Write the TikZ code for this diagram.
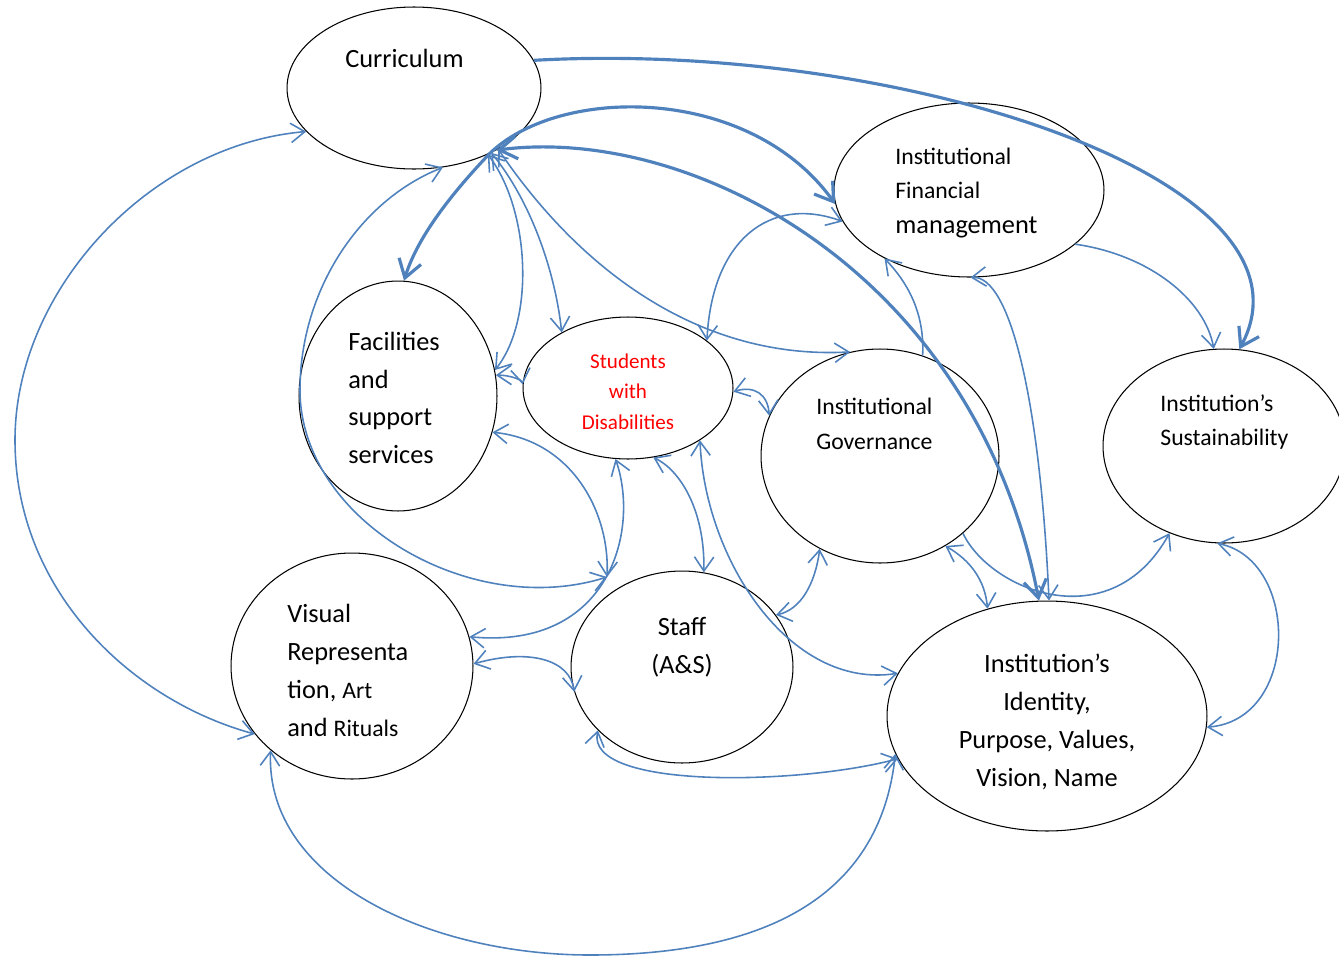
\documentclass[tikz,border=0pt]{standalone}
\usepackage{fontspec}
\setmainfont{Carlito}
\usetikzlibrary{arrows.meta,shapes.geometric}
\definecolor{link}{RGB}{79,129,189}
\definecolor{sred}{RGB}{255,0,0}
\begin{document}
\begin{tikzpicture}[x=0.02cm,y=-0.02cm,
  bb/.tip={Straight Barb[length=8pt,width=11pt]},
  BB/.tip={Straight Barb[length=10pt,width=13pt]},
  ell/.style={draw=black, ellipse, inner sep=0pt, line width=0.6pt},
  txt/.style={inner sep=0pt},
  lnk/.style={draw=link, line width=0.9pt},
  both/.style={lnk, bb-bb},
  one/.style={lnk, -bb},
  thk/.style={draw=link, line width=1.8pt}]
\useasboundingbox (0,0) rectangle (1339,957);

% ellipses
\node[ell, minimum width=5.08cm, minimum height=3.24cm] (cur) at (414,88) {};
\node[ell, minimum width=5.40cm, minimum height=3.48cm] (fin) at (969,190) {};
\node[ell, minimum width=3.96cm, minimum height=4.60cm] (fac) at (398,396) {};
\node[ell, minimum width=4.20cm, minimum height=2.84cm] (stu) at (628,388) {};
\node[ell, minimum width=4.76cm, minimum height=4.28cm] (gov) at (880,456) {};
\node[ell, minimum width=4.84cm, minimum height=3.88cm] (sus) at (1224,446) {};
\node[ell, minimum width=4.84cm, minimum height=4.52cm] (vis) at (352,666) {};
\node[ell, minimum width=4.44cm, minimum height=3.84cm] (sta) at (682,667) {};
\node[ell, minimum width=6.40cm, minimum height=4.60cm] (ide) at (1047,716) {};

% texts (base anchor = baseline of the last line)
\node[txt, anchor=base west, font=\fontsize{15}{21}\selectfont] (tcur) at (345,67) {Curriculum};
\node[txt, anchor=base west, align=left, font=\fontsize{13.5}{19.5}\selectfont] (tfin) at (895,233)
  {Institutional\\Financial\\{\fontsize{15}{20.5}\selectfont management}};
\node[txt, anchor=base west, align=left, font=\fontsize{15}{21.3}\selectfont] (tfac) at (348,463)
  {Facilities\\and\\support\\services};
\node[txt, anchor=base, align=center, text=sred, font=\fontsize{12}{17.1}\selectfont] (tstu) at (628,429)
  {Students\\with\\Disabilities};
\node[txt, anchor=base west, align=left, font=\fontsize{13.5}{19.4}\selectfont] (tgov) at (816,449)
  {Institutional\\Governance};
\node[txt, anchor=base west, align=left, font=\fontsize{13.5}{18.8}\selectfont] (tsus) at (1160,445)
  {Institution’s\\Sustainability};
\node[txt, anchor=base west, align=left, font=\fontsize{15}{21.6}\selectfont] (tvis) at (287,736)
  {Visual\\Representa\\tion, {\fontsize{13.5}{21.6}\selectfont Art}\\and {\fontsize{13.5}{21.6}\selectfont Rituals}};
\node[txt, anchor=base, align=center, font=\fontsize{15}{21.6}\selectfont] (tsta) at (682,673)
  {Staff\\(A\&S)};
\node[txt, anchor=base, align=center, font=\fontsize{15}{21.6}\selectfont] (tide) at (1047,786)
  {Institution’s\\Identity,\\Purpose, Values,\\Vision, Name};

% thick connectors
\draw[thk, -BB] (cur.13) .. controls (900,40) and (1330,180) .. (sus.81);
\draw[thk, -BB] (cur.-41) .. controls (455,190) and (418,235) .. (fac.87);
\draw[thk, -BB] (cur.-41) .. controls (560,85) and (750,85) .. (fin.186);
\draw[thk, BB-BB] (cur.-37) .. controls (690,125) and (975,270) .. (ide.94);

% thin connectors
\coordinate (sx) at (607,577);
\draw[both] (cur.202) .. controls (150,145) and (15,290) .. (15,440) .. controls (15,590) and (130,700) .. (vis.215);
\draw[both] (cur.-70) .. controls (360,200) and (300,290) .. (300,390) .. controls (300,520) and (470,620) .. (sx);
\draw[both] (cur.-42) .. controls (530,210) and (535,320) .. (fac.15);
\draw[both] (cur.-40) .. controls (530,200) and (555,270) .. (stu.140);
\draw[both] (cur.-36) .. controls (580,270) and (700,360) .. (gov.106);
\draw[both] (stu.31) .. controls (712,240) and (770,195) .. (fin.194);
\draw[one] (gov.67) .. controls (925,310) and (905,280) .. (fin.219);
\draw[both] (fin.271) .. controls (1010,275) and (1040,400) .. (ide.89);
\draw[one] (fin.-27) .. controls (1150,255) and (1205,300) .. (sus.96);
\draw[both] (stu.-2) .. controls (755,385) and (768,395) .. (gov.160);
\draw[both] (fac.12) .. controls (510,375) and (522,380) .. (stu.178);
\draw[both] (fac.-21) .. controls (570,440) and (610,510) .. (sx);
\draw[both] (stu.-100) .. controls (640,530) and (610,650) .. (vis.14);
\draw[both] (stu.-70) .. controls (680,470) and (705,510) .. (sta.77);
\draw[both] (stu.-36) .. controls (705,560) and (790,690) .. (ide.164);
\draw[both] (gov.-123) .. controls (815,585) and (800,610) .. (sta.29);
\draw[both] (gov.-54) .. controls (970,560) and (985,580) .. (ide.119);
\draw[one] (gov.-43) .. controls (990,590) and (1110,640) .. (sus.-122);
\draw[both] (sus.-94) .. controls (1300,560) and (1300,720) .. (ide.-4);
\draw[both] (vis.1) .. controls (530,648) and (570,660) .. (sta.193);
\draw[both] (sta.217) .. controls (585,790) and (800,785) .. (ide.196);
\draw[both] (vis.-134) .. controls (265,880) and (430,955) .. (590,955) .. controls (760,955) and (880,900) .. (ide.194);
\end{tikzpicture}
\end{document}
